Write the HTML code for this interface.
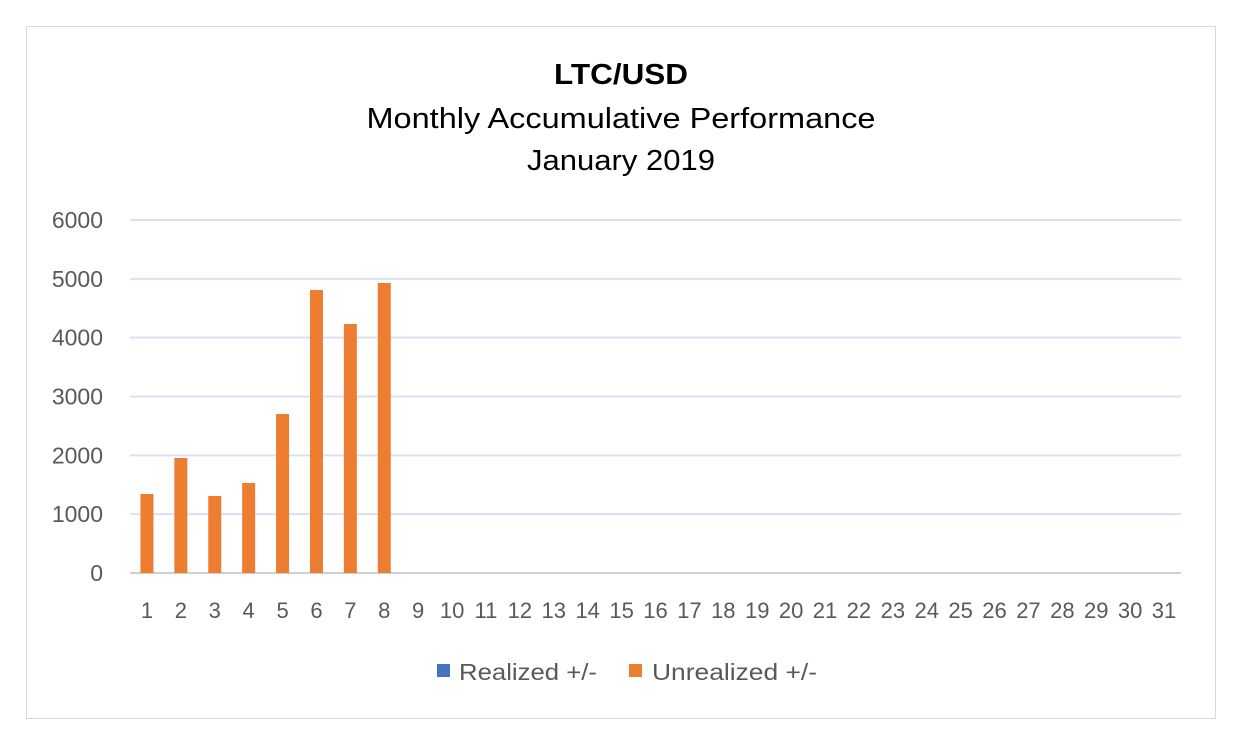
<!DOCTYPE html>
<html><head><meta charset="utf-8"><style>
body{margin:0;background:#fff;font-family:"Liberation Sans",sans-serif}
</style></head><body>
<svg width="1245" height="738" xmlns="http://www.w3.org/2000/svg">
<rect x="0" y="0" width="1245" height="738" fill="#fff"/>
<rect x="26.5" y="26.5" width="1189" height="692" fill="#fff" stroke="#d9d9d9"/>
<text x="621" y="84" text-anchor="middle" font-size="29" font-weight="bold" fill="#000" textLength="134" lengthAdjust="spacingAndGlyphs">LTC/USD</text>
<text x="621" y="128" text-anchor="middle" font-size="29" fill="#000" textLength="509" lengthAdjust="spacingAndGlyphs">Monthly Accumulative Performance</text>
<text x="621" y="170" text-anchor="middle" font-size="29" fill="#000" textLength="188" lengthAdjust="spacingAndGlyphs">January 2019</text>
<g id="grid"></g><g id="bars"></g><g id="xl"></g>
<g>
<rect x="437" y="664" width="13" height="13" fill="#4472c4"/>
<text x="459" y="680" font-size="23" fill="#595959" textLength="138" lengthAdjust="spacingAndGlyphs">Realized +/-</text>
<rect x="629" y="664" width="13" height="13" fill="#ed7d31"/>
<text x="652" y="680" font-size="23" fill="#595959" textLength="165" lengthAdjust="spacingAndGlyphs">Unrealized +/-</text>
</g>
</svg>
<script>
const categories=Array.from({length:31},(_,i)=>String(i+1));
const realized=[0,0,0,0,0,0,0,0];
const unrealized=[1343,1955,1309,1530,2703,4810,4232,4929];
const yTicks=[0,1000,2000,3000,4000,5000,6000];
const NS="http://www.w3.org/2000/svg";
const x0=130,x1=1181,y0=573,y1=220,yMax=6000;
const band=(x1-x0)/categories.length;
const xc=i=>x0+band*(i+0.5);
const y=v=>y0-(v/yMax)*(y0-y1);
function mk(t,a,p){const e=document.createElementNS(NS,t);for(const k in a)e.setAttribute(k,a[k]);p.appendChild(e);return e;}
const g=document.getElementById('grid');
yTicks.forEach(v=>{
 const l=mk('line',{x1:x0,x2:x1,y1:y(v),y2:y(v),stroke:v===0?'#d0d0d0':'#d9e1f2','stroke-width':2},g);
 
 
 const t=mk('text',{x:103,y:y(v)+8,'text-anchor':'end','font-size':23,fill:'#595959'},g);
 t.textContent=v;
 
 
});
const b=document.getElementById('bars');
unrealized.forEach((v,i)=>{
 const r=mk('rect',{x:xc(i)-6.5,y:y(v),width:13,height:y0-y(v),fill:'#ed7d31'},b);
 
 
});
const xl=document.getElementById('xl');
categories.forEach((c,i)=>{
 const t=mk('text',{x:xc(i),y:618,'text-anchor':'middle','font-size':22,fill:'#595959'},xl);
 t.textContent=c;
 
 
});
</script>
</body></html>
